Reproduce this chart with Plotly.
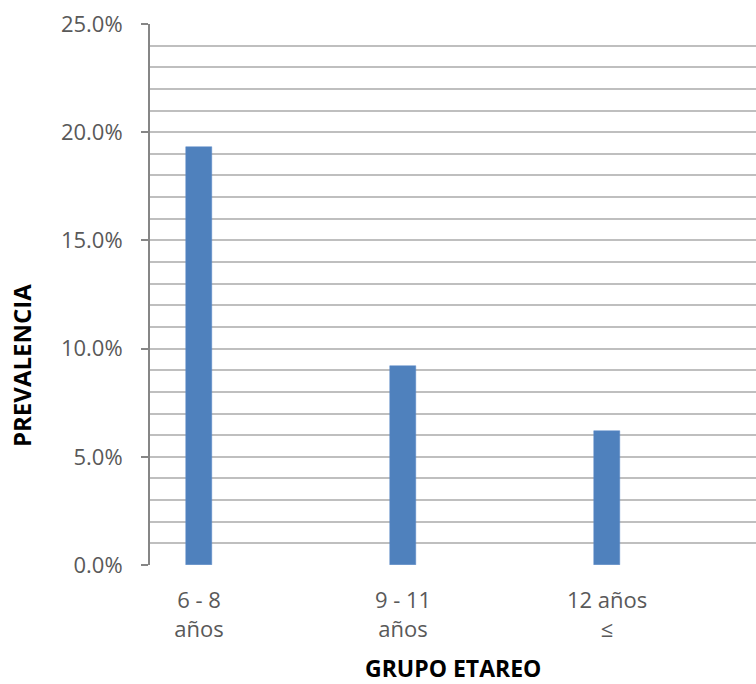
import plotly.graph_objects as go

categories = ["6 - 8<br>años", "9 - 11<br>años", "12 años<br>≤"]
prevalence = [0.193, 0.092, 0.062]

FONT = "Open Sans"

fig = go.Figure()
fig.add_trace(go.Bar(
    x=list(range(len(categories))),
    y=prevalence,
    width=0.127,
    marker=dict(color="#4F81BD", line=dict(color="#5B8ACB", width=0.5)),
    showlegend=False,
))

fig.update_layout(
    width=756, height=684,
    margin=dict(l=150, r=0, t=24, b=119),
    paper_bgcolor="white", plot_bgcolor="white",
    bargap=0,
    xaxis=dict(
        range=[-0.24, 2.73],
        tickmode="array",
        tickvals=list(range(len(categories))),
        ticktext=categories,
        tickfont=dict(family=FONT, size=22, color="#595959"),
        showgrid=False, zeroline=False,
        showline=False, ticks="",
        ticklabelstandoff=20,
    ),
    yaxis=dict(
        range=[0, 0.25],
        dtick=0.05,
        tickformat=".1%",
        tickfont=dict(family=FONT, size=22, color="#595959"),
        showgrid=True, gridcolor="#BFBFBF", gridwidth=2,
        minor=dict(dtick=0.01, showgrid=True, gridcolor="#BFBFBF", gridwidth=2),
        zeroline=False,
        showline=True, linecolor="#868686", linewidth=2,
        ticks="outside", ticklen=7, tickcolor="#868686", tickwidth=2,
        ticklabelstandoff=14,
    ),
    annotations=[
        dict(text="<b>PREVALENCIA</b>", textangle=-90, xref="paper", yref="paper",
             x=-0.211, y=0.368, xanchor="center", yanchor="middle", showarrow=False,
             font=dict(family=FONT, size=24, color="black")),
        dict(text="<b>GRUPO ETAREO</b>", xref="paper", yref="paper",
             x=0.5, y=-0.19, xanchor="center", yanchor="middle", showarrow=False,
             font=dict(family=FONT, size=23, color="black")),
    ],
)

fig.write_html("out.html")
